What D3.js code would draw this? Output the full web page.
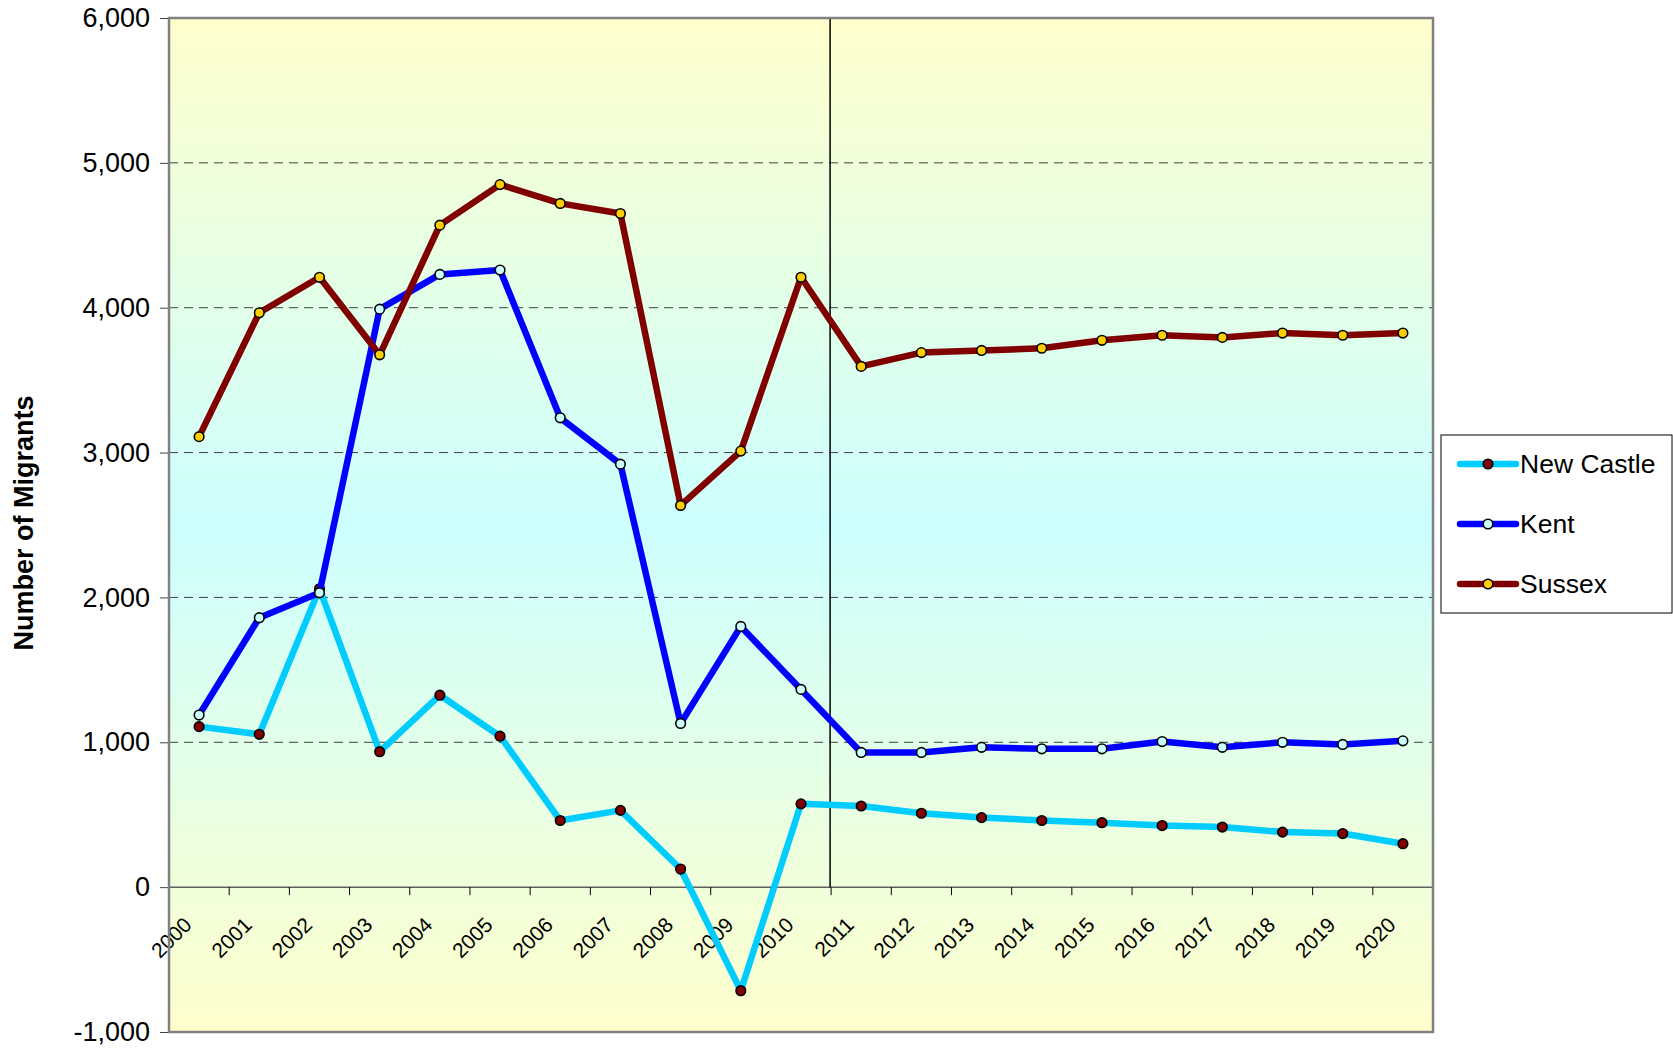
<!DOCTYPE html>
<html>
<head>
<meta charset="utf-8">
<script src="https://cdn.jsdelivr.net/npm/d3@7"></script>
<style>
    body { margin: 0; background: #fff; }
    svg text { font-family: Arial, "Liberation Sans", sans-serif; }
</style>
</head>
<body>
<svg id="chart1" width="1673" height="1048"></svg>
<script>

const years = ["2000", "2001", "2002", "2003", "2004", "2005", "2006", "2007", "2008", "2009", "2010",
    "2011", "2012", "2013", "2014", "2015", "2016", "2017", "2018", "2019", "2020"];

const newCastle = [1108, 1055, 2060, 935, 1325, 1042, 460, 530, 125, -715, 575,
    560, 510, 480, 460, 445, 425, 415, 380, 370, 300];

const kent = [1188, 1860, 2032, 3990, 4230, 4260, 3240, 2920, 1130, 1800, 1365,
    930, 930, 965, 955, 955, 1005, 965, 1000, 985, 1010];

const sussex = [3110, 3965, 4210, 3675, 4570, 4850, 4720, 4650, 2635, 3010, 4210,
    3595, 3690, 3705, 3720, 3775, 3810, 3795, 3825, 3810, 3825];

const yTicks = [-1000, 0, 1000, 2000, 3000, 4000, 5000, 6000];
const gridValues = [1000, 2000, 3000, 4000, 5000];

const seriesList = [
    { name: "New Castle", values: newCastle, color: "#00CCFF", marker: "#800000" },
    { name: "Kent", values: kent, color: "#0000FF", marker: "#CCFFFF" },
    { name: "Sussex", values: sussex, color: "#800000", marker: "#FFCC00" }
];

function drawChart() {

    const svg = d3.select("#chart1");
    const margin = { top: 18, right: 240, bottom: 16, left: 169 };
    const width = +svg.attr("width") - margin.left - margin.right;
    const height = +svg.attr("height") - margin.top - margin.bottom;
    const chartArea = svg.append("g").attr("transform", `translate(${margin.left},${margin.top})`);

    const xScale = d3.scaleBand()
        .domain(years)
        .range([0, width]);

    const yScale = d3.scaleLinear()
        .domain([-1000, 6000])
        .range([height, 0]);

    // background gradient yellow -> cyan -> yellow
    const grad = svg.append("defs").append("linearGradient")
        .attr("id", "bg")
        .attr("x1", 0).attr("y1", 0).attr("x2", 0).attr("y2", 1);
    grad.append("stop").attr("offset", "0%").attr("stop-color", "#FFFFCC");
    grad.append("stop").attr("offset", "50%").attr("stop-color", "#CCFFFF");
    grad.append("stop").attr("offset", "100%").attr("stop-color", "#FFFFCC");

    chartArea.append("rect")
        .attr("width", width)
        .attr("height", height)
        .attr("fill", "url(#bg)");

    // dashed gridlines
    chartArea.selectAll(".grid")
        .data(gridValues)
        .enter().append("line")
        .attr("class", "grid")
        .attr("x1", 0)
        .attr("x2", width)
        .attr("y1", d => yScale(d))
        .attr("y2", d => yScale(d))
        .attr("stroke", "#404040")
        .attr("stroke-width", 1)
        .attr("stroke-dasharray", "9,6");

    // y axis (plain hyphen for negatives, like the original)
    const yAxis = d3.axisLeft(yScale)
        .tickValues(yTicks)
        .tickSize(9)
        .tickPadding(10)
        .tickFormat(d => d3.format(",")(d).replace("\u2212", "-"));

    const yAxisG = chartArea.append("g").call(yAxis);
    yAxisG.select(".domain").remove();
    yAxisG.selectAll("line").attr("stroke", "#404040");
    yAxisG.selectAll("text")
        .attr("font-size", "27px")
        .attr("fill", "#000");

    // x axis on the zero line, ticks between categories
    const xAxisG = chartArea.append("g")
        .attr("transform", `translate(0,${yScale(0)})`);

    xAxisG.append("line")
        .attr("x1", 0)
        .attr("x2", width)
        .attr("stroke", "#606060")
        .attr("stroke-width", 1.5);

    xAxisG.selectAll(".xtick")
        .data(years.slice(1).map(d => xScale(d)).concat([width]))
        .enter().append("line")
        .attr("class", "xtick")
        .attr("x1", d => d)
        .attr("x2", d => d)
        .attr("y1", 0)
        .attr("y2", 8)
        .attr("stroke", "#000");

    xAxisG.selectAll(".xlabel")
        .data(years)
        .enter().append("text")
        .attr("class", "xlabel")
        .attr("text-anchor", "end")
        .attr("font-size", "21px")
        .attr("transform", d => `translate(${xScale(d) + xScale.bandwidth() / 2 - 6},${39}) rotate(-45)`)
        .text(d => d);

    // vertical divider between 2010 and 2011
    chartArea.append("line")
        .attr("x1", xScale("2011") - 1)
        .attr("x2", xScale("2011") - 1)
        .attr("y1", 0)
        .attr("y2", yScale(0))
        .attr("stroke", "#000")
        .attr("stroke-width", 1.5);

    // plot border
    chartArea.append("rect")
        .attr("width", width)
        .attr("height", height)
        .attr("fill", "none")
        .attr("stroke", "#808080")
        .attr("stroke-width", 2.5);

    const line = d3.line()
        .x((d, i) => xScale(years[i]) + xScale.bandwidth() / 2)
        .y(d => yScale(d));

    seriesList.forEach(s => {
        chartArea.append("path")
            .datum(s.values)
            .attr("d", line)
            .attr("fill", "none")
            .attr("stroke", s.color)
            .attr("stroke-width", 6.5)
            .attr("stroke-linejoin", "round");

        chartArea.selectAll(`.dot-${s.name.replace(/\s+/g, '-')}`)
            .data(s.values)
            .enter().append("circle")
            .attr("class", `dot-${s.name.replace(/\s+/g, '-')}`)
            .attr("cx", (d, i) => xScale(years[i]) + xScale.bandwidth() / 2)
            .attr("cy", d => yScale(d))
            .attr("r", 4.8)
            .attr("fill", s.marker)
            .attr("stroke", "#000")
            .attr("stroke-width", 1.6);
    });

    // y axis title
    svg.append("text")
        .attr("transform", `translate(33,${margin.top + height / 2 - 2}) rotate(-90)`)
        .attr("text-anchor", "middle")
        .attr("font-size", "27px")
        .attr("font-weight", "bold")
        .text("Number of Migrants");

    // legend
    const legend = svg.append("g").attr("transform", "translate(1441,435)");
    legend.append("rect")
        .attr("width", 231)
        .attr("height", 178)
        .attr("fill", "#fff")
        .attr("stroke", "#000")
        .attr("stroke-width", 1);

    seriesList.forEach((s, i) => {
        const row = legend.append("g").attr("transform", `translate(0,${29 + i * 60})`);
        row.append("line")
            .attr("x1", 19)
            .attr("x2", 75)
            .attr("stroke", s.color)
            .attr("stroke-width", 6.5)
            .attr("stroke-linecap", "round");
        row.append("circle")
            .attr("cx", 47)
            .attr("r", 4.8)
            .attr("fill", s.marker)
            .attr("stroke", "#000")
            .attr("stroke-width", 1.6);
        row.append("text")
            .attr("x", 79)
            .attr("dy", "0.35em")
            .attr("font-size", "26.5px")
            .text(s.name);
    });
}

drawChart();
</script>
</body>
</html>
